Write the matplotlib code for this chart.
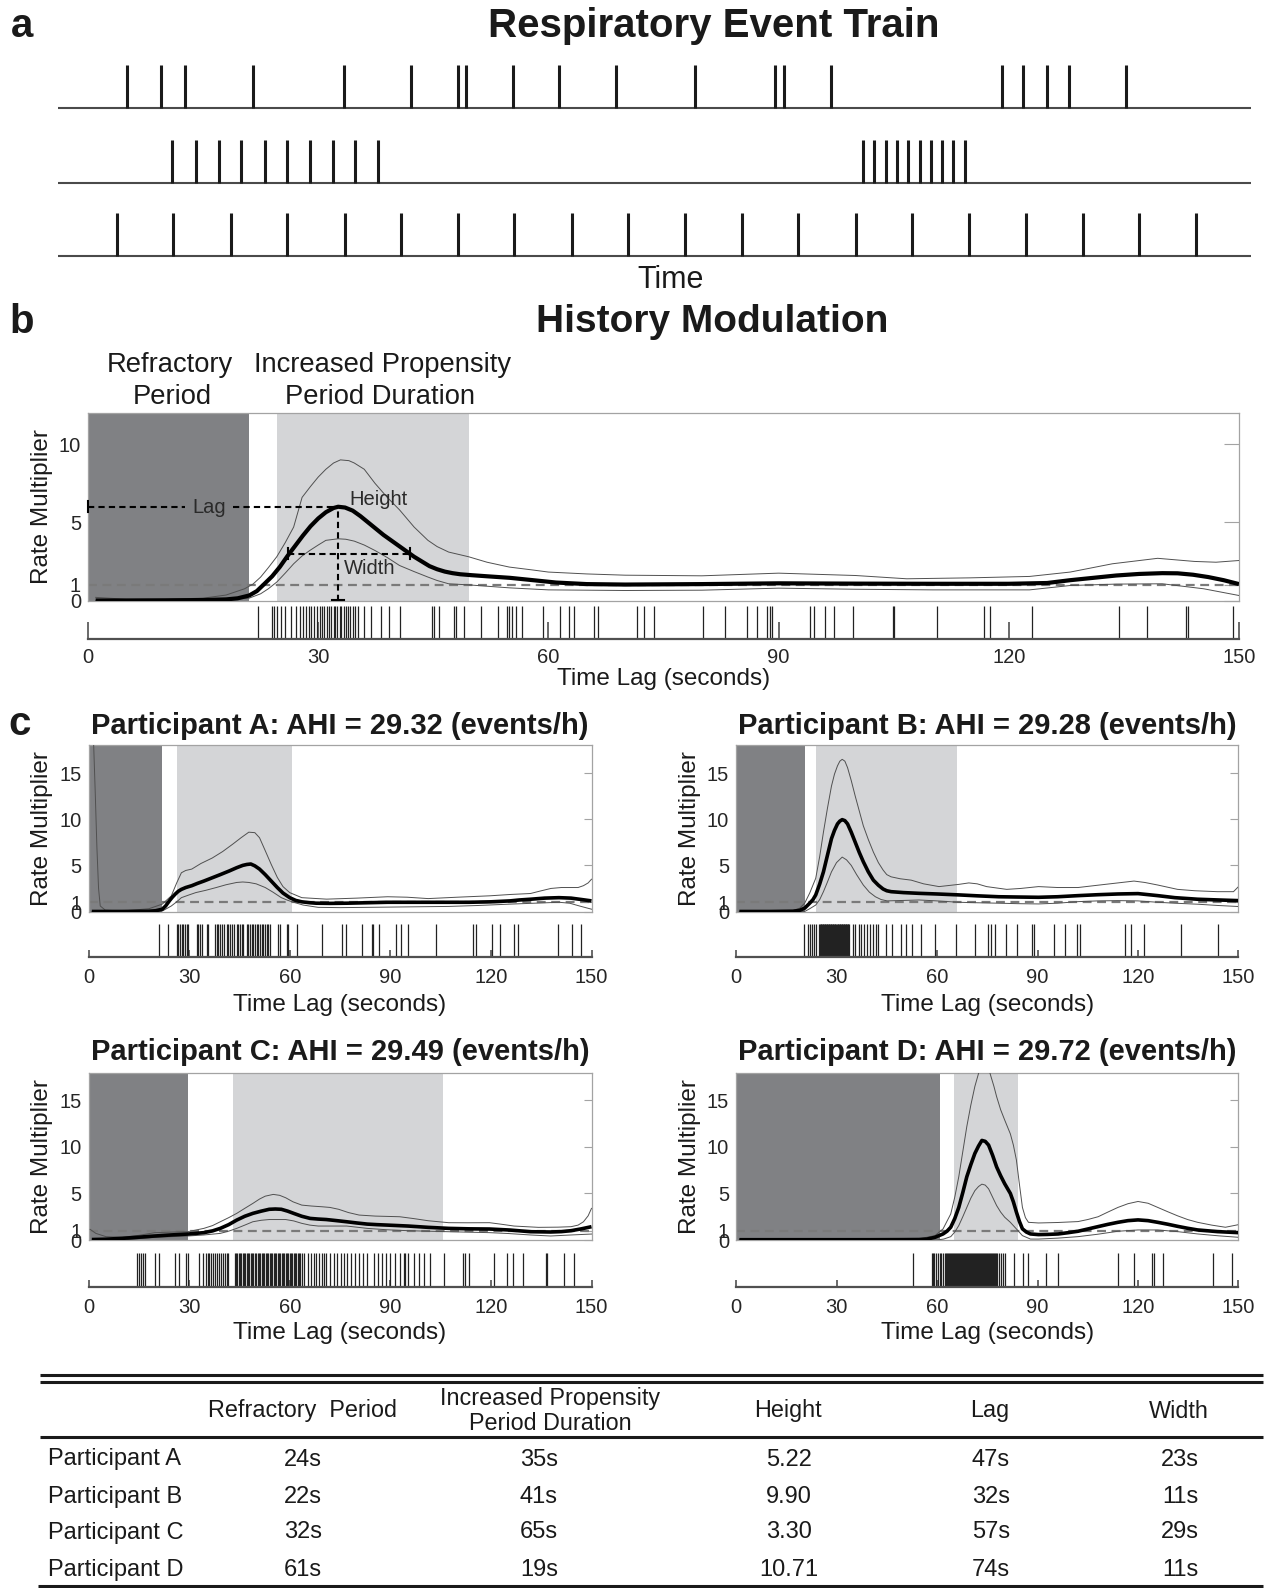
import matplotlib
matplotlib.use('Agg')
import matplotlib.pyplot as plt

# ---------------- data ----------------
# panel a: event trains (arbitrary time units)
train1 = [69, 103, 127, 195, 286, 353, 400, 408, 455, 501, 558, 637, 717, 726, 773, 944, 965, 989, 1011, 1068]
train2 = [114, 138, 161, 183, 207, 229, 252, 275, 297, 320, 805, 816, 828, 839, 850, 862, 873, 884, 895, 907]
train3 = [59, 115, 173, 229, 287, 343, 400, 456, 514, 570, 627, 684, 740, 798, 854, 911, 968, 1025, 1081, 1138]

# panel b: history modulation
b_lag = [1, 5, 10, 15, 18, 19.5, 21, 22, 23, 24, 25, 26, 27, 28, 29, 30, 31, 32, 32.6, 33.5,
         34.5, 35.5, 36.5, 37.5, 38.5, 39.5, 40.5, 41.5, 42.5, 43.5, 44.5, 45.5, 46.5, 47.5, 48.5, 50, 52, 55, 58, 61,
         65, 70, 80, 90, 100, 110, 120, 125, 128, 131, 134, 137, 140, 142, 144, 146, 148, 150]
b_mean = [0.0, 0.0, 0.01, 0.03, 0.07, 0.14, 0.32, 0.6, 1.07, 1.55, 2.15, 2.85, 3.5, 4.15, 4.75, 5.25, 5.65, 5.92, 6.0, 5.95,
          5.75, 5.4, 5.0, 4.6, 4.2, 3.85, 3.5, 3.15, 2.8, 2.5, 2.2, 2.0, 1.85, 1.75, 1.68, 1.62, 1.55, 1.45, 1.3, 1.15,
          1.05, 1.02, 1.05, 1.1, 1.08, 1.07, 1.07, 1.12, 1.3, 1.45, 1.6, 1.7, 1.75, 1.74, 1.65, 1.5, 1.3, 1.05]
b_up_lag = [1, 5, 10, 15, 18, 20.4, 21.5, 22.5, 23.5, 24.6, 25.7, 26.8, 27.9, 29, 30, 31, 32, 32.9, 34, 34.7, 36, 37.4,
            39, 40.6, 42.5, 44.3, 45.5, 47, 49.6, 52, 54.9, 58, 60, 65, 70, 80, 90, 100, 106.7, 115, 122.7, 128, 133.5,
            139.4, 144.2, 147, 150]
b_up = [0.2, 0.08, 0.08, 0.15, 0.35, 0.75, 1.05, 1.5, 2.1, 2.8, 3.7, 4.7, 6.6, 7.3, 7.9, 8.4, 8.8, 9.0, 8.95, 8.8, 8.4, 7.5,
        6.6, 5.8, 4.7, 3.85, 3.45, 3.1, 2.8, 2.45, 2.14, 1.95, 1.82, 1.7, 1.62, 1.58, 1.75, 1.6, 1.39, 1.45, 1.54, 1.82, 2.35,
        2.7, 2.5, 2.45, 2.56]
b_lo_lag = [1, 10, 18, 21, 22.5, 23.5, 24.6, 25.7, 26.8, 27.9, 28.9, 30, 31, 32.6, 33.6, 34.7, 36, 37.4, 39, 40.6, 42.5,
            44.3, 45.5, 47, 49.6, 54.9, 60, 70, 80, 90, 100, 110, 122.7, 128, 134, 140, 145.4, 150]
b_lo = [0.0, 0.0, 0.05, 0.15, 0.43, 0.75, 1.18, 1.75, 2.35, 2.85, 3.2, 3.55, 3.85, 3.95, 3.92, 3.8, 3.55, 3.2, 2.75, 2.24,
        1.85, 1.5, 1.28, 1.07, 1.0, 0.81, 0.68, 0.64, 0.66, 0.79, 0.72, 0.68, 0.68, 0.96, 1.05, 1.07, 0.75, 0.32]
b_events = [22.1, 24.0, 24.3, 24.6, 25.2, 25.7, 26.4, 27.1, 27.6, 28.0, 28.4, 28.8, 29.1, 29.5, 29.8, 30.2, 30.5, 30.8,
            31.1, 31.4, 31.7, 32.0, 32.2, 32.5, 32.8, 33.0, 33.3, 33.6, 33.9, 34.2, 34.5, 34.8, 35.2, 36.0, 36.9, 38.2,
            39.2, 40.6, 44.8, 45.1, 45.8, 47.7, 48.0, 49.0, 51.2, 53.4, 54.6, 54.9, 55.3, 55.8, 56.6, 59.3, 61.5, 62.7,
            63.4, 65.9, 66.4, 71.5, 72.5, 73.7, 80.2, 83.0, 85.9, 87.2, 88.5, 88.9, 89.2, 94.1, 94.6, 96.0, 97.2, 99.7,
            104.9, 105.1, 110.6, 116.8, 117.6, 123.0, 134.3, 138.0, 143.1, 143.3, 149.2]
b_refractory = 21.0
b_ippd = (24.6, 49.6)
b_peak_lag = 32.6
b_height = 6.0
b_width = (26.1, 41.9)
b_width_level = 3.0

# panel c: participants
names = ['Participant A', 'Participant B', 'Participant C', 'Participant D']
ahi = ['29.32', '29.28', '29.49', '29.72']
refr_span = [22.0, 20.5, 29.6, 60.9]
ippd_span = [(26.3, 60.8), (24.0, 65.9), (43.1, 105.8), (65.1, 84.3)]

A_lag = [1, 10, 18, 20, 22, 23, 24.1, 25, 25.9, 26.8, 27.7, 29, 30.8, 32.5, 34.4, 36.5, 39.3, 42, 44.2, 46,
         47.2, 48.4, 49.6, 51, 52.7, 54.5, 56.3, 58, 60, 61.8, 63.6, 66, 67.9, 72, 77, 83, 89.2, 95, 101.3, 107,
         113.5, 120, 125.7, 128.5, 131.8, 136, 140.3, 143.9, 147, 150]
A_mean = [0.0, 0.0, 0.03, 0.08, 0.25, 0.6, 1.15, 1.55, 1.9, 2.2, 2.4, 2.6, 2.8, 3.05, 3.3, 3.6, 4.0, 4.4, 4.75, 5.0,
          5.1, 5.15, 4.95, 4.6, 4.0, 3.3, 2.6, 2.0, 1.5, 1.2, 1.05, 0.95, 0.9, 0.88, 0.9, 0.95, 1.0, 1.0, 1.0, 1.0,
          1.0, 1.05, 1.15, 1.25, 1.33, 1.45, 1.5, 1.45, 1.3, 1.15]
A_up_lag = [1.5, 2.0, 2.5, 3.0, 3.5, 5, 10, 18, 22, 24.7, 26.3, 27.7, 29, 30.8, 33.5, 36.9, 40, 43, 45.5, 47.8,
            49.6, 51, 52.7, 54.5, 56.3, 58, 60, 63.6, 71, 80, 89.2, 95, 101.3, 110, 119.6, 126, 131.8, 134.5, 137.9, 141,
            143.9, 146, 147.6, 149, 150]
A_up = [18.5, 13, 7, 2.5, 0.6, 0.15, 0.05, 0.3, 0.8, 1.7, 3.1, 4.2, 4.45, 4.6, 5.2, 5.8, 6.5, 7.3, 8.0, 8.6,
        8.55, 8.0, 6.6, 5.1, 3.7, 2.7, 2.05, 1.5, 1.34, 1.45, 1.6, 1.55, 1.4, 1.55, 1.7, 1.85, 1.95, 2.2, 2.5, 2.6,
        2.6, 2.6, 2.8, 3.1, 3.5]
A_lo_lag = [1, 10, 20, 22, 24.7, 26.3, 27.7, 30, 32, 35, 38.1, 41, 44.2, 46, 47.8, 50, 52.7, 55, 57.5, 59.5,
            61.2, 64, 68.5, 75, 83.1, 95, 107.4, 116, 125.7, 133, 140.3, 143.5, 146.4, 150]
A_lo = [0.0, 0.0, 0.0, 0.05, 0.6, 1.05, 1.5, 1.8, 2.05, 2.3, 2.6, 2.9, 3.15, 3.2, 3.15, 3.0, 2.6, 2.1, 1.5, 1.2,
        1.0, 0.7, 0.45, 0.42, 0.45, 0.5, 0.55, 0.65, 0.8, 0.9, 1.0, 0.9, 0.6, 0.25]
A_events = [21.1, 23.8, 26.3, 26.8, 27.3, 27.8, 28.3, 28.8, 29.3, 29.8, 32.3, 32.8, 33.3, 33.8, 35.3, 35.7, 37.7, 38.2,
            38.7, 39.2, 39.7, 40.5, 41.2, 41.7, 42.2, 42.7, 43.5, 44.2, 44.7, 45.2, 45.7, 46.2, 47.2, 47.7, 48.2, 48.7,
            49.2, 49.7, 50.1, 50.6, 51.1, 51.6, 52.1, 52.6, 53.1, 53.6, 54.1, 56.6, 57.1, 59.1, 59.6, 62.1, 69.5, 75.7,
            76.7, 81.6, 84.4, 84.9, 86.6, 91.6, 93.3, 95.3, 103.6, 114.7, 115.7, 120.4, 122.8, 126.8, 128.2, 140.0,
            144.3, 147.0]

B_lag = [1, 10, 17, 19, 20.5, 22, 23, 23.8, 25, 26.1, 27.3, 28.5, 29.4, 30.3, 31, 31.7, 32.5, 33.3, 34.4, 35.6,
         36.8, 38, 39.5, 41, 42.5, 43.9, 45, 46.3, 50, 54.6, 60, 66.5, 72, 78.4, 84, 90.3, 96, 102.1, 108, 114,
         120, 125.9, 131, 137.8, 144, 150]
B_mean = [0.0, 0.0, 0.03, 0.12, 0.36, 0.9, 1.3, 1.8, 3.0, 4.3, 6.1, 7.9, 8.8, 9.5, 9.8, 9.96, 9.85, 9.5, 8.6, 7.5,
          6.4, 5.4, 4.3, 3.4, 2.85, 2.44, 2.25, 2.15, 2.05, 1.97, 1.9, 1.8, 1.7, 1.6, 1.57, 1.54, 1.6, 1.72, 1.82, 1.9,
          1.94, 1.72, 1.5, 1.33, 1.25, 1.18]
B_up_lag = [1, 10, 17, 19, 20.5, 22, 23.8, 25, 26.1, 27.3, 28.5, 29.4, 30.3, 31, 31.7, 32.5, 33.3, 34.4, 35.6, 36.8,
            38, 39.5, 41, 42.5, 43.9, 45, 46.3, 49, 52.3, 56, 60.6, 66.5, 69.5, 72, 74.8, 80.8, 85, 90.3, 96, 102.1,
            108, 114, 118.8, 122, 125.9, 131.8, 137, 143.7, 148.5, 150]
B_up = [0.0, 0.0, 0.1, 0.35, 0.9, 2.0, 3.6, 6.0, 8.6, 11.2, 13.6, 14.9, 15.8, 16.3, 16.5, 16.3, 15.6, 14.2, 12.5, 10.9,
        9.3, 7.8, 6.45, 5.3, 4.5, 4.0, 3.76, 3.55, 3.4, 3.0, 2.7, 2.94, 3.1, 3.0, 2.7, 2.4, 2.5, 2.7, 2.6, 2.6,
        2.85, 3.1, 3.3, 3.15, 2.87, 2.4, 2.25, 2.15, 2.15, 2.7]
B_lo_lag = [1, 10, 20.5, 22, 23.8, 25, 26.1, 27.3, 28.5, 30, 31.7, 33, 34.4, 36, 38, 39.8, 41.6, 43.3, 45.1, 50,
            54.6, 60, 66.5, 72, 78.4, 84, 90.3, 96, 102.1, 108, 114, 120, 125.9, 131, 137.8, 144, 150]
B_lo = [0.0, 0.0, 0.0, 0.3, 0.7, 1.3, 2.15, 3.2, 4.3, 5.3, 5.9, 5.6, 5.0, 4.0, 2.87, 2.1, 1.6, 1.3, 1.15, 1.2,
        1.25, 1.15, 1.0, 0.95, 0.9, 0.85, 0.82, 0.9, 1.07, 1.15, 1.18, 1.15, 1.0, 0.9, 0.79, 0.65, 0.54]
B_events = [20.4, 21.4, 22.0, 22.6, 23.2, 23.8, 24.9, 25.1, 25.3, 25.5, 25.7, 25.9, 26.1, 26.3, 26.5, 26.7, 26.9, 27.1,
            27.3, 27.5, 27.7, 27.9, 28.1, 28.3, 28.5, 28.7, 28.9, 29.1, 29.3, 29.5, 29.7, 29.9, 30.1, 30.3, 30.5, 30.7,
            30.9, 31.1, 31.3, 31.5, 31.7, 31.9, 32.1, 32.3, 32.5, 32.7, 32.9, 33.1, 33.3, 33.5, 33.8, 35.0, 35.6, 36.6,
            37.4, 38.2, 39.2, 40.1, 41.0, 41.8, 42.5, 44.8, 46.6, 49.3, 50.8, 52.6, 55.2, 59.4, 65.7, 71.3, 75.2, 76.0,
            77.2, 80.5, 83.8, 88.5, 89.1, 95.0, 98.3, 101.9, 102.6, 116.0, 117.8, 121.7, 132.7, 143.8]

C_lag = [1, 5, 10.1, 15, 19.8, 25, 29.6, 34.4, 37, 39.3, 41.8, 44.2, 46.6, 49, 51.5, 53.9, 55.7, 57.5, 59.4, 61.2,
         63.6, 66.1, 68.5, 70.9, 74, 77, 80, 83.1, 86, 89.2, 95.3, 101.3, 107.4, 113.5, 119.6, 125.7, 131.8, 137.8,
         141, 143.9, 147, 150]
C_mean = [0.05, 0.08, 0.18, 0.3, 0.43, 0.55, 0.64, 0.79, 0.98, 1.25, 1.65, 2.14, 2.55, 2.86, 3.1, 3.3, 3.33, 3.3, 3.1,
          2.86, 2.55, 2.32, 2.25, 2.2, 2.08, 1.96, 1.83, 1.71, 1.65, 1.6, 1.5, 1.36, 1.25, 1.2, 1.18, 1.07, 0.89, 0.86,
          0.9, 1.0, 1.2, 1.43]
C_up_lag = [0.5, 2.2, 5.2, 10.1, 15, 19.8, 25, 29.6, 34.4, 37, 39.3, 41.8, 44.2, 46.6, 49, 51, 52.7, 55.1, 57, 58.8,
            61, 63.6, 66.5, 69.7, 72, 74.6, 77.5, 80.7, 85.5, 92.8, 97, 101.3, 107.4, 113, 119.6, 123, 126.9, 134.2,
            140, 143.9, 146, 147.6, 149, 150]
C_up = [1.14, 0.71, 0.36, 0.29, 0.5, 0.79, 0.85, 0.89, 1.25, 1.55, 1.96, 2.4, 2.86, 3.4, 3.93, 4.4, 4.71, 4.9, 4.8, 4.54,
        4.1, 3.75, 3.65, 3.57, 3.5, 3.3, 2.95, 2.68, 2.57, 2.5, 2.3, 2.07, 1.86, 1.85, 1.86, 1.7, 1.5, 1.36, 1.38, 1.43,
        1.6, 1.96, 2.6, 3.4]
C_lo_lag = [1, 10.1, 19.8, 29.6, 34.4, 39.3, 41.8, 44.2, 46.6, 49, 51.5, 53.9, 58.8, 61.2, 63.6, 66, 68.5, 77, 83.1, 89,
            95.3, 107.4, 119.6, 125, 131.8, 137.8, 143.9, 150]
C_lo = [0.0, 0.0, 0.29, 0.43, 0.54, 0.71, 0.95, 1.25, 1.6, 1.96, 2.12, 2.2, 2.2, 2.05, 1.79, 1.6, 1.5, 1.5, 1.25, 1.1,
        1.0, 0.89, 0.79, 0.7, 0.54, 0.43, 0.54, 0.64]
C_events = [14.4, 15.0, 15.6, 16.2, 16.8, 19.8, 21.0, 25.7, 27.1, 29.0, 29.8, 33.0, 34.2, 35.0, 35.5, 36.0, 36.6, 37.2,
            37.8, 38.3, 38.9, 39.5, 40.1, 40.6, 41.2, 41.7, 43.6, 44.0, 44.4, 44.8, 45.2, 45.6, 46.0, 46.4, 46.8, 47.2,
            47.6, 48.0, 48.4, 48.8, 49.2, 49.6, 50.0, 50.4, 50.8, 51.2, 51.6, 52.0, 52.4, 52.8, 53.2, 53.6, 54.0, 54.4,
            54.8, 55.2, 55.6, 56.0, 56.4, 56.8, 57.2, 57.6, 58.0, 58.4, 58.8, 59.2, 59.6, 60.0, 60.4, 60.8, 61.2, 61.6,
            62.0, 62.4, 62.8, 63.2, 63.6, 64.2, 65.5, 66.3, 67.1, 67.9, 68.7, 69.5, 70.3, 70.9, 72.1, 73.1, 74.1, 75.2,
            76.2, 77.2, 78.2, 79.4, 80.6, 81.9, 83.1, 85.0, 86.2, 87.5, 88.8, 90.0, 91.5, 93.0, 94.0, 94.5, 95.3, 97.1,
            98.6, 100.1, 101.9, 106.0, 111.7, 112.3, 113.5, 121.0, 124.8, 126.5, 129.7, 136.3, 136.6, 141.8, 144.8]

D_lag = [1, 20, 40, 50, 54.6, 57, 59.4, 61.8, 63, 64.1, 65.3, 66.5, 67.7, 68.9, 70.1, 71.3, 72.4, 73.4, 74.4, 75.4,
         76.6, 77.8, 79, 80.2, 81.9, 82.8, 83.7, 84.6, 85.5, 86.7, 87.9, 90.3, 93, 96.2, 99, 102.1, 105, 108.1, 111, 114,
         117, 120, 123, 125.9, 128.8, 131.8, 134.8, 137.8, 143.7, 150]
D_mean = [0.03, 0.03, 0.03, 0.04, 0.05, 0.1, 0.29, 0.65, 0.95, 1.37, 2.3, 3.5, 5.1, 6.8, 8.1, 9.3, 10.1, 10.7, 10.6, 10.2,
          9.1, 7.85, 6.9, 6.05, 5.0, 4.1, 3.0, 2.0, 1.2, 0.85, 0.65, 0.58, 0.6, 0.65, 0.78, 0.94, 1.18, 1.44, 1.68, 1.9,
          2.08, 2.16, 2.08, 1.9, 1.7, 1.47, 1.26, 1.08, 0.9, 0.79]
D_up_lag = [1, 40, 55, 59.4, 61.8, 64.1, 65.3, 66.5, 67.7, 68.9, 70.1, 71.3, 72.4, 73.5, 74.8, 76, 77, 77.8, 79, 80.2,
            81.9, 82.8, 83.7, 84.6, 85.5, 86.4, 87.3, 90.3, 96, 102.1, 105, 108.1, 111, 114, 117, 120, 123, 125.9, 128.8,
            131.8, 134.8, 137.8, 142, 146.1, 150]
D_up = [0.05, 0.05, 0.15, 0.47, 1.19, 2.8, 4.6, 6.8, 9.5, 12.2, 14.5, 16.5, 17.9, 19.0, 19.2, 17.7, 16.5, 15.4, 14.0, 12.9,
        11.4, 10.2, 8.6, 6.0, 3.5, 2.4, 1.9, 1.83, 1.88, 1.98, 2.2, 2.5, 3.0, 3.5, 3.9, 4.14, 3.95, 3.5, 3.05,
        2.6, 2.2, 1.9, 1.6, 1.37, 1.65]
D_lo_lag = [1, 60, 62, 64.1, 65.3, 66.5, 67.7, 68.9, 70.1, 71.3, 72.4, 73.4, 74.4, 75.4, 76.6, 77.8, 79, 80.2, 81.9, 83.7,
            85.5, 87.9, 90.3, 96, 102.1, 108, 114, 120, 125.9, 131.8, 137.8, 144, 150]
D_lo = [0.0, 0.0, 0.1, 0.36, 0.85, 1.55, 2.5, 3.5, 4.5, 5.3, 5.75, 6.0, 5.9, 5.5, 4.6, 3.7, 3.0, 2.45, 1.9, 1.19,
        0.47, 0.1, 0.1, 0.2, 0.36, 0.62, 0.94, 1.08, 1.08, 0.9, 0.65, 0.45, 0.29]
D_events = [52.9, 58.4, 58.8, 59.1, 59.6, 60.3, 60.8, 61.3, 61.8, 62.4, 62.7, 63.0, 63.3, 63.6, 63.9, 64.2, 64.5, 64.8,
            65.1, 65.4, 65.7, 66.0, 66.3, 66.6, 66.9, 67.2, 67.5, 67.8, 68.1, 68.4, 68.7, 69.0, 69.3, 69.6, 69.9, 70.2,
            70.5, 70.8, 71.1, 71.4, 71.7, 72.0, 72.3, 72.6, 72.9, 73.2, 73.5, 73.8, 74.1, 74.4, 74.7, 75.0, 75.3, 75.6,
            75.9, 76.2, 76.5, 76.8, 77.1, 77.4, 77.7, 78.0, 78.4, 79.0, 79.6, 80.2, 82.9, 85.7, 87.3, 92.6, 96.0, 114.0,
            118.8, 124.1, 124.9, 127.4, 142.5, 148.0]

# table
tab_cols = ['Refractory  Period', 'Increased Propensity\nPeriod Duration', 'Height', 'Lag', 'Width']
tab_refr = ['24s', '22s', '32s', '61s']
tab_ippd = ['35s', '41s', '65s', '19s']
tab_height = ['5.22', '9.90', '3.30', '10.71']
tab_lag = ['47s', '32s', '57s', '74s']
tab_width = ['23s', '11s', '29s', '11s']

# ---------------- style ----------------
W, H = 1265, 1588
plt.rcParams['font.family'] = ['Liberation Sans', 'DejaVu Sans']
TXT = '#1a1a1a'
DARK = '#808184'
LIGHT = '#d4d5d7'
FRAME = '#a3a3a3'
CI = '#505050'

fig = plt.figure(figsize=(W / 100, H / 100), dpi=100)


def add_ax(l, t, r, b):
    return fig.add_axes([l / W, 1 - b / H, (r - l) / W, (b - t) / H])


def ftext(x, y, s, **kw):
    kw.setdefault('color', TXT)
    kw.setdefault('ha', 'center')
    kw.setdefault('va', 'center')
    fig.text(x / W, 1 - y / H, s, **kw)


# ---------------- panel a ----------------
ax_a = add_ax(58, 60, 1251, 260)
ax_a.set_xlim(0, 1193)
ax_a.set_ylim(0, 200)
ax_a.axis('off')
levels = [151.6, 76.7, 3.8]
for tr, lv in zip([train1, train2, train3], levels):
    ax_a.axhline(lv, color='#4a4a4a', lw=1.5)
    ax_a.vlines(tr, lv, lv + 43, color='#1a1a1a', lw=2.2)
ftext(22, 26, 'a', fontsize=29, fontweight='bold')
ftext(714, 26, 'Respiratory Event Train', fontsize=29, fontweight='bold')
ftext(671, 280, 'Time', fontsize=22)


def style_main(ax, ymax, yticks, tlen):
    ax.set_xlim(0, 150)
    ax.set_ylim(0, ymax)
    ax.set_xticks([])
    ax.set_yticks(yticks)
    ax.set_yticklabels([str(v) for v in yticks])
    ax.tick_params(axis='y', left=False, right=True, labelleft=True, direction='in',
                   length=tlen, width=0.8, color=FRAME, labelsize=14.5, pad=5, labelcolor='#262626')
    for sp in ax.spines.values():
        sp.set_color(FRAME)
        sp.set_linewidth(0.9)


def style_rug(ax, events, tlen, pad):
    ax.set_xlim(0, 150)
    ax.set_ylim(0, 1)
    ax.vlines(events, 0, 1, color='#222222', lw=0.9)
    for s in ['top', 'right', 'left']:
        ax.spines[s].set_visible(False)
    ax.spines['bottom'].set_color('#505050')
    ax.spines['bottom'].set_linewidth(1.6)
    ax.set_yticks([])
    ax.set_xticks([0, 30, 60, 90, 120, 150])
    ax.tick_params(axis='x', direction='in', length=tlen, width=1.2, color='#505050',
                   labelsize=14.5, pad=pad, labelcolor='#262626')
    ax.patch.set_alpha(0)


def draw_curves(ax, refr, ippd, lag, mean, ulag, up, llag, lo, mlw):
    ax.axvspan(0, refr, color=DARK, lw=0, zorder=0)
    ax.axvspan(ippd[0], ippd[1], color=LIGHT, lw=0, zorder=0)
    ax.axhline(1, color='#7a7a7a', lw=1.6, dashes=(4, 2.5), zorder=2)
    ax.plot(ulag, up, color=CI, lw=0.7, zorder=3)
    ax.plot(llag, lo, color=CI, lw=0.7, zorder=3)
    ax.plot(lag, mean, color='black', lw=mlw, zorder=4, solid_capstyle='butt')


# ---------------- panel b ----------------
ax_b = add_ax(88, 413, 1239, 600.5)
style_main(ax_b, 12, [0, 1, 5, 10], 11)
draw_curves(ax_b, b_refractory, b_ippd, b_lag, b_mean, b_up_lag, b_up, b_lo_lag, b_lo, 3.0)
dkw = dict(color='black', lw=1.5, dashes=(3, 2), zorder=5, clip_on=False)
ckw = dict(color='black', lw=1.5, zorder=5, clip_on=False)
ax_b.plot([0, 12.6], [b_height, b_height], **dkw)
ax_b.plot([18.9, b_peak_lag], [b_height, b_height], **dkw)
ax_b.plot([0, 0], [b_height - 0.35, b_height + 0.35], **ckw)
ax_b.plot([b_peak_lag, b_peak_lag], [0, b_height], **dkw)
ax_b.plot([b_peak_lag - 0.8, b_peak_lag + 0.8], [0.02, 0.02], **ckw)
ax_b.plot([b_width[0], b_width[1]], [b_width_level, b_width_level], **dkw)
for wx in b_width:
    ax_b.plot([wx, wx], [b_width_level - 0.35, b_width_level + 0.35], **ckw)
ax_b.text(15.8, b_height - 0.05, 'Lag', fontsize=14.5, ha='center', va='center', color='#2a2a2a', zorder=6)
ax_b.text(b_peak_lag + 1.5, b_height + 0.45, 'Height', fontsize=14.5, ha='left', va='center', color='#2a2a2a', zorder=6)
ax_b.text(b_peak_lag + 0.8, b_width_level - 0.95, 'Width', fontsize=14.5, ha='left', va='center', color='#2a2a2a', zorder=6)

ax_br = add_ax(88, 606, 1239, 638.5)
style_rug(ax_br, b_events, 12, 7)

ftext(22, 322, 'b', fontsize=29, fontweight='bold')
ftext(712, 322, 'History Modulation', fontsize=28, fontweight='bold')
ftext(170, 365, 'Refractory', fontsize=19.7)
ftext(172, 397, 'Period', fontsize=19.7)
ftext(383, 365, 'Increased Propensity', fontsize=19.7)
ftext(380, 397, 'Period Duration', fontsize=19.7)
ftext(42.5, 507, 'Rate Multiplier', fontsize=17.5, rotation=90)
ftext(664, 679, 'Time Lag (seconds)', fontsize=17.5)

# ---------------- panel c ----------------
ftext(20, 724, 'c', fontsize=29, fontweight='bold')
boxes = [(88.5, 591.5, 745.5, 911.5, 924, 957.3, 726, 1005),
         (736, 1238.5, 745.5, 911.5, 924, 957.3, 726, 1005),
         (88.5, 591.5, 1072.5, 1240, 1253, 1287.3, 1052, 1333),
         (736, 1238.5, 1072.5, 1240, 1253, 1287.3, 1052, 1333)]
series = [(A_lag, A_mean, A_up_lag, A_up, A_lo_lag, A_lo, A_events),
          (B_lag, B_mean, B_up_lag, B_up, B_lo_lag, B_lo, B_events),
          (C_lag, C_mean, C_up_lag, C_up, C_lo_lag, C_lo, C_events),
          (D_lag, D_mean, D_up_lag, D_up, D_lo_lag, D_lo, D_events)]
ylab_x = [42.5, 690, 42.5, 690]
for i in range(4):
    l, r, t, b, rt, rb, ty, xly = boxes[i]
    lag, mean, ulag, up, llag, lo, ev = series[i]
    ax = add_ax(l, t, r, b)
    style_main(ax, 18, [0, 1, 5, 10, 15], 6)
    draw_curves(ax, refr_span[i], ippd_span[i], lag, mean, ulag, up, llag, lo, 2.6)
    axr = add_ax(l, rt, r, rb)
    style_rug(axr, ev, 5, 8)
    cx = (l + r) / 2
    ftext(cx, ty, f'{names[i]}: AHI = {ahi[i]} (events/h)', fontsize=21, fontweight='bold')
    ftext(cx, xly, 'Time Lag (seconds)', fontsize=17.5)
    ftext(ylab_x[i], (t + b) / 2, 'Rate Multiplier', fontsize=17.5, rotation=90)

# ---------------- table ----------------
ax_t = fig.add_axes([0, 0, 1, 1])
ax_t.set_xlim(0, W)
ax_t.set_ylim(H, 0)
ax_t.axis('off')
ax_t.patch.set_alpha(0)
rule = dict(color='#1a1a1a', lw=2.2, solid_capstyle='butt')
for yy in [1375, 1381.5, 1437]:
    ax_t.plot([40, 1263], [yy, yy], **rule)
ax_t.plot([38, 1263], [1585.5, 1585.5], **rule)

head_x = [303, 550, 788, 990, 1179]
val_x = [303, 539, 789, 991, 1180]
row_y = [1459.5, 1497, 1532.5, 1570]
for hx, col in zip(head_x, tab_cols):
    ax_t.text(hx, 1411, col, fontsize=16.8, ha='center', va='center', color=TXT, linespacing=1.1)
cols = [tab_refr, tab_ippd, tab_height, tab_lag, tab_width]
for j, nm in enumerate(names):
    ax_t.text(48.5, row_y[j], nm, fontsize=17, ha='left', va='center', color=TXT)
    for vx, col in zip(val_x, cols):
        ax_t.text(vx, row_y[j], col[j], fontsize=17, ha='center', va='center', color=TXT)

fig.savefig('out.png', dpi=100)
